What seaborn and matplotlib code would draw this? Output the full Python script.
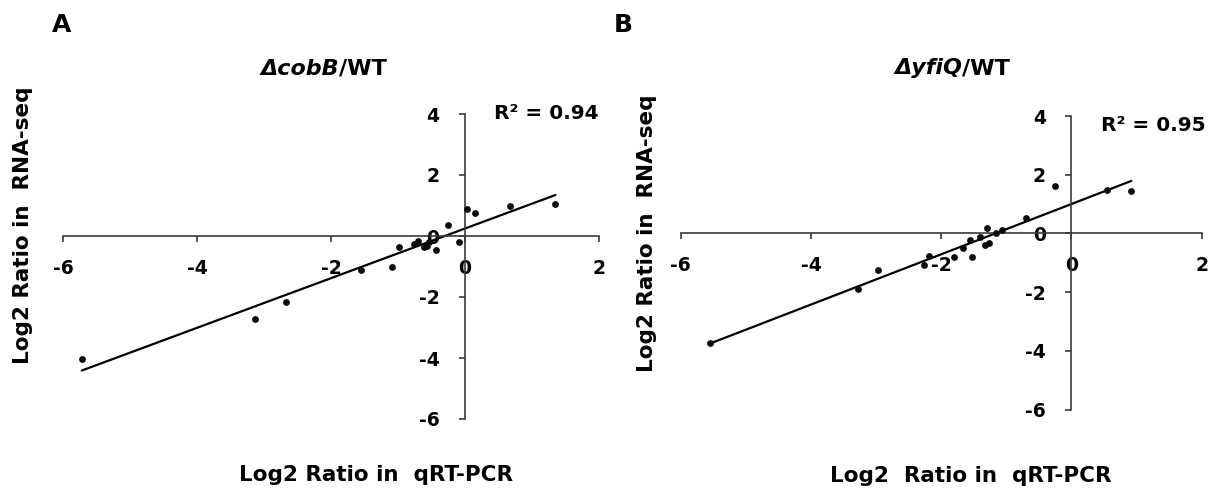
import numpy as np
import pandas as pd
import matplotlib
matplotlib.use("Agg")
import matplotlib.pyplot as plt
import seaborn as sns

# panel A: delta cobB / WT
cobb_qpcr = [0.03, 0.15, -0.26, -0.09, -0.43, -0.53, -0.57, -0.61, -0.70, -0.76,
             -0.99, -1.09, -1.55, -2.67, -3.13, -5.72, 0.67, 1.35]
cobb_rnaseq = [0.89, 0.74, 0.35, -0.20, -0.46, -0.19, -0.33, -0.37, -0.15, -0.27,
               -0.37, -1.00, -1.13, -2.15, -2.73, -4.03, 1.00, 1.06]

# panel B: delta yfiQ / WT
yfiq_qpcr = [-0.70, -1.06, -1.16, -1.29, -1.26, -1.32, -1.40, -1.56, -1.66, -1.53,
             -1.81, -2.18, -2.26, -2.97, -3.28, -5.55, -0.26, 0.55, 0.92]
yfiq_rnaseq = [0.51, 0.13, 0.00, 0.20, -0.32, -0.40, -0.11, -0.23, -0.51, -0.79,
               -0.81, -0.77, -1.09, -1.24, -1.88, -3.72, 1.61, 1.49, 1.44]

x_ticks = [-6, -4, -2, 0, 2]
y_ticks = [-6, -4, -2, 0, 2, 4]

sns.set_style("white")
plt.rcParams['font.family'] = ['DejaVu Sans']
plt.rcParams['text.color'] = 'black'
plt.rcParams['xtick.color'] = 'black'
plt.rcParams['ytick.color'] = 'black'

W, H = 1220, 495
fig = plt.figure(figsize=(W / 100, H / 100), dpi=100)


def px(x, y):
    # pixel position -> figure fraction
    return x / W, 1 - y / H


def draw_panel(rect, qpcr, rnaseq):
    ax = fig.add_axes(rect)
    df = pd.DataFrame({"qpcr": qpcr, "rnaseq": rnaseq})
    sns.regplot(data=df, x="qpcr", y="rnaseq", ax=ax, ci=None, truncate=True,
                scatter_kws=dict(s=24, color="#0a0a0a", alpha=1, linewidths=0, zorder=3),
                line_kws=dict(color="black", lw=1.6, zorder=2))
    ax.set_xlim(-6, 2)
    ax.set_ylim(-6, 4)
    ax.set_xticks(x_ticks)
    ax.set_yticks(y_ticks)
    ax.set_xticklabels([str(t) for t in x_ticks])
    ax.set_yticklabels([str(t) for t in y_ticks])
    for side in ["top", "right"]:
        ax.spines[side].set_visible(False)
    for side in ["left", "bottom"]:
        ax.spines[side].set_position(("data", 0))
        ax.spines[side].set_color("#3a3a3a")
        ax.spines[side].set_linewidth(1.2)
    ax.tick_params(axis="x", bottom=True, direction="out", length=4.5, width=1.2,
                   color="#3a3a3a", labelcolor="black", pad=12, labelsize=13.5)
    ax.tick_params(axis="y", left=True, direction="out", length=4.5, width=1.2,
                   color="#3a3a3a", labelcolor="black", pad=14, labelsize=13.5)
    for lab in ax.get_xticklabels() + ax.get_yticklabels():
        lab.set_fontweight("bold")
    ax.set_xlabel("")
    ax.set_ylabel("")
    ax.patch.set_alpha(0)
    return ax


axA = draw_panel([63 / W, 76 / H, 536 / W, 305 / H], cobb_qpcr, cobb_rnaseq)
axB = draw_panel([680.7 / W, 85.5 / H, 521 / W, 293.5 / H], yfiq_qpcr, yfiq_rnaseq)

# panel letters
fig.text(*px(62, 32), "A", fontsize=18, fontweight="bold", ha="center", va="baseline")
fig.text(*px(623, 32), "B", fontsize=18, fontweight="bold", ha="center", va="baseline")

# titles
fig.text(*px(339, 75), "\u0394cobB", fontsize=16, fontweight="bold", style="italic",
         ha="right", va="baseline")
fig.text(*px(339, 75), "/WT", fontsize=16, fontweight="bold", ha="left", va="baseline")
fig.text(*px(962, 74), "\u0394yfiQ", fontsize=16, fontweight="bold", style="italic",
         ha="right", va="baseline")
fig.text(*px(962, 74), "/WT", fontsize=16, fontweight="bold", ha="left", va="baseline")

# R squared
fig.text(*px(599, 119), "R\u00b2 = 0.94", fontsize=14.5, fontweight="bold",
         ha="right", va="baseline")
fig.text(*px(1206, 131), "R\u00b2 = 0.95", fontsize=14.5, fontweight="bold",
         ha="right", va="baseline")

# axis labels
fig.text(*px(376, 481), "Log2 Ratio in  qRT-PCR", fontsize=15.5, fontweight="bold",
         ha="center", va="baseline")
fig.text(*px(971, 482), "Log2  Ratio in  qRT-PCR", fontsize=15.5, fontweight="bold",
         ha="center", va="baseline")
fig.text(*px(23, 225), "Log2 Ratio in  RNA-seq", fontsize=15.5, fontweight="bold",
         rotation=90, ha="center", va="center")
fig.text(*px(647, 233), "Log2 Ratio in  RNA-seq", fontsize=15.5, fontweight="bold",
         rotation=90, ha="center", va="center")

fig.savefig("out.png", dpi=100, facecolor="white")
